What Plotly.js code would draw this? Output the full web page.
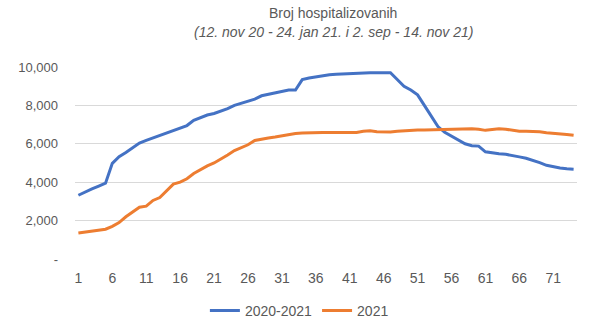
<!DOCTYPE html>
<html>
<head>
<meta charset="utf-8">
<script src="https://cdn.plot.ly/plotly-3.0.1.min.js"></script>
<style>
  html, body { margin: 0; padding: 0; background: #fff; }
  #chart { width: 596px; height: 334px; outline: 1px solid #d9d9d9; outline-offset: -1px; }
</style>
</head>
<body>
<div id="chart"></div>
<script>
// Series values (daily number of hospitalized)
const series2020 = [
  3320, 3500, 3650, 3800, 3950, 4980, 5330, 5550, 5780, 6040,
  6180, 6310, 6460, 6580, 6720, 6850, 6950, 7220, 7370, 7500,
  7580, 7700, 7830, 8000, 8100, 8220, 8330, 8500, 8580, 8650,
  8720, 8800, 8800, 9340, 9430, 9500, 9550, 9600, 9620, 9640,
  9650, 9670, 9690, 9700, 9700, 9700, 9700, 9350, 9000, 8800,
  8550, 8000, 7450, 6900, 6600, 6400, 6200, 6000, 5900, 5880,
  5580, 5520, 5480, 5450, 5400, 5320, 5250, 5150, 5020, 4880,
  4800, 4740, 4700, 4680
];
const series2021 = [
  1350, 1400, 1450, 1480, 1550, 1700, 1900, 2200, 2450, 2700,
  2750, 3050, 3200, 3550, 3900, 4000, 4180, 4450, 4650, 4850,
  5000, 5200, 5420, 5650, 5780, 5950, 6170, 6250, 6300, 6350,
  6420, 6500, 6540, 6560, 6580, 6590, 6590, 6590, 6590, 6590,
  6590, 6590, 6650, 6680, 6630, 6620, 6620, 6650, 6680, 6700,
  6720, 6720, 6730, 6740, 6740, 6750, 6760, 6780, 6780, 6760,
  6700, 6740, 6780, 6760, 6700, 6650, 6650, 6650, 6630, 6580,
  6560, 6530, 6490, 6450
];
const seriesNames = ["2020-2021", "2021"];
const xTickVals = [1, 6, 11, 16, 21, 26, 31, 36, 41, 46, 51, 56, 61, 66, 71];
const xTickText = ["1", "6", "11", "16", "21", "26", "31", "36", "41", "46", "51", "56", "61", "66", "71"];
const yTickVals = [0, 2000, 4000, 6000, 8000, 10000];
const yTickText = ["-", "2,000", "4,000", "6,000", "8,000", "10,000"];
const titleText = "Broj hospitalizovanih";
const subtitleText = "(12. nov 20 - 24. jan 21. i 2. sep - 14. nov 21)";

const days = series2020.map((_, i) => i + 1);

const FONT = "'Liberation Sans', Arial, sans-serif";
const GREY = "#595959";

const traces = [
  { x: days, y: series2020, type: "scatter", mode: "lines", name: seriesNames[0],
    line: { color: "#4472C4", width: 3 } },
  { x: days, y: series2021, type: "scatter", mode: "lines", name: seriesNames[1],
    line: { color: "#ED7D31", width: 3 } }
];

const layout = {
  width: 596, height: 334,
  margin: { l: 75, r: 19, t: 67, b: 75, autoexpand: false },
  paper_bgcolor: "#ffffff", plot_bgcolor: "#ffffff",
  font: { family: FONT, size: 13, color: GREY },
  showlegend: true,
  legend: { orientation: "h", x: 0.447, xanchor: "center", y: -0.27, yanchor: "middle",
            font: { family: FONT, size: 14, color: GREY }, itemwidth: 30, tracegroupgap: 0 },
  xaxis: {
    range: [0.5, 74.5], tickvals: xTickVals, ticktext: xTickText,
    showgrid: false, zeroline: false, showline: false, ticks: "",
    tickfont: { family: FONT, size: 14, color: GREY }, ticklabelstandoff: 9, fixedrange: true
  },
  yaxis: {
    range: [0, 10000], tickvals: yTickVals, ticktext: yTickText,
    showgrid: true, gridcolor: "#D9D9D9", gridwidth: 1, zeroline: false, showline: false, ticks: "",
    tickfont: { family: FONT, size: 13, color: GREY }, ticklabelstandoff: 16, fixedrange: true
  },
  annotations: [
    { text: titleText, xref: "paper", yref: "paper", x: 0.514, y: 1.283, xanchor: "center", yanchor: "middle",
      showarrow: false, font: { family: FONT, size: 14, color: GREY } },
    { text: "<i>" + subtitleText + "</i>", xref: "paper", yref: "paper", x: 0.514, y: 1.181, xanchor: "center", yanchor: "middle",
      showarrow: false, font: { family: FONT, size: 14, color: GREY } }
  ]
};

Plotly.newPlot("chart", traces, layout, { displayModeBar: false, staticPlot: true });
</script>
</body>
</html>
